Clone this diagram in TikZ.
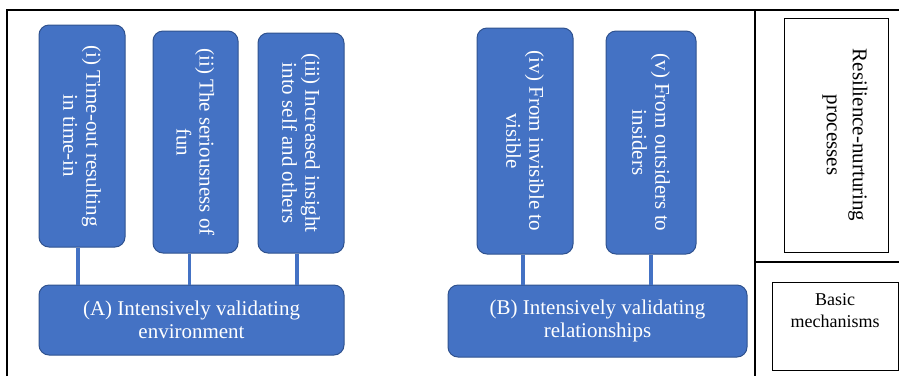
\documentclass[tikz,border=0pt]{standalone}
\usepackage{fontspec}
\setmainfont{Liberation Serif}
\usetikzlibrary{positioning, calc}

\definecolor{boxblue}{RGB}{68,114,196}
\definecolor{edgeblue}{RGB}{47,82,143}

\begin{document}
\begin{tikzpicture}[x=1pt, y=-1pt,
    stage/.style={rectangle, rounded corners=10pt, draw=edgeblue, line width=1pt,
                  fill=boxblue, text=white, align=center, inner sep=0pt,
                  font=\fontsize{21}{23}\selectfont},
    process/.style={stage, rotate=-90},
    link/.style={boxblue, line width=3.5pt},
    plainbox/.style={rectangle, draw=black, line width=0.8pt, inner sep=0pt},
    frame/.style={black, line width=1.2pt}]

    \useasboundingbox (0,0) rectangle (899,376);

    % the table lines
    \draw[frame] (7,376) -- (7,10) -- (899,10);
    \draw[frame] (755,10) -- (755,376);
    \draw[frame] (755,262) -- (899,262);

    % resilience-nurturing processes
    \node[process, minimum width=222pt, minimum height=86pt] (i)   at (82,136)  {(i) Time-out resulting\\in time-in};
    \node[process, minimum width=222pt, minimum height=85pt] (ii)  at (195.5,142) {(ii) The seriousness of\\fun};
    \node[process, minimum width=220pt, minimum height=86pt] (iii) at (301,143) {(iii) Increased insight\\into self and others};
    \node[process, minimum width=226pt, minimum height=96pt] (iv)  at (525,141) {(iv) From invisible to\\visible};
    \node[process, minimum width=223pt, minimum height=90pt] (v)   at (651,142.5) {(v) From outsiders to\\insiders};

    % basic mechanisms
    \node[stage, minimum width=305pt, minimum height=70pt] (A) at (191.5,320) {(A) Intensively validating\\environment};
    \node[stage, minimum width=299pt, minimum height=72pt] (B) at (597.5,321) {(B) Intensively validating\\relationships};

    % links between processes and mechanisms
    \draw[link] ([xshift=-4pt]i.east)   -- ([xshift=-4pt]i.east |- A.north);
    \draw[link] ([xshift=-6pt]ii.east)  -- ([xshift=-6pt]ii.east |- A.north);
    \draw[link] ([xshift=-4pt]iii.east) -- ([xshift=-4pt]iii.east |- A.north);
    \draw[link] ([xshift=-2pt]iv.east)  -- ([xshift=-2pt]iv.east |- B.north);
    \draw[link] (v.east) -- (v.east |- B.north);

    % row headings
    \node[plainbox, minimum width=104pt, minimum height=234pt] (res) at (836,135) {};
    \node[rotate=-90, align=center, font=\fontsize{21}{26}\selectfont] (restext) at ([xshift=9pt]res.center) {Resilience-nurturing\\processes};

    \node[plainbox, minimum width=126pt, minimum height=88pt] (basic) at (835,326) {};
    \node[align=center, font=\fontsize{18}{22}\selectfont] (basictext) at ([yshift=15pt]basic.center) {Basic\\mechanisms};
\end{tikzpicture}
\end{document}
